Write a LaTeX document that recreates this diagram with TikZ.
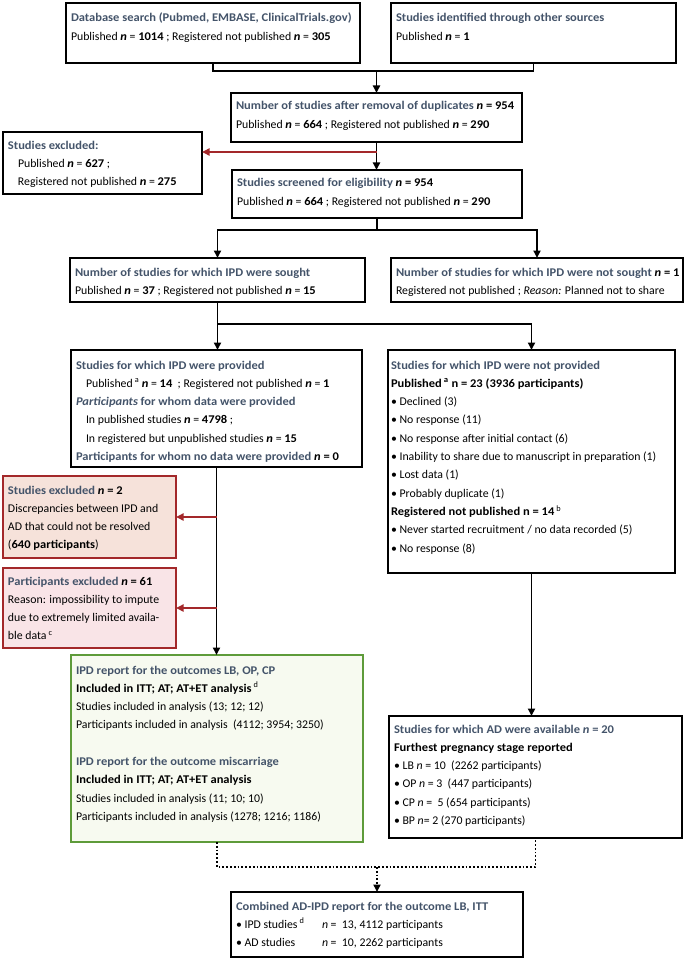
\documentclass[tikz,border=0pt]{standalone}
\usepackage{fontspec}
\setmainfont{Carlito}[BoldFeatures={FakeStretch=1.06},BoldItalicFeatures={FakeStretch=1.06}]
\usetikzlibrary{arrows.meta,calc}
\definecolor{titleblue}{HTML}{44546A}
\definecolor{redline}{HTML}{A3282A}
\definecolor{redfillA}{HTML}{F6E2DA}
\definecolor{redfillB}{HTML}{F9E4E7}
\definecolor{greenline}{HTML}{5E9B3A}
\definecolor{greenfill}{HTML}{F7FAF0}
\newcommand\tb[1]{{\color{titleblue}\bfseries #1}}
\newcommand\bn{\textbf{\textit{n}}}
\newcommand\ind{\hspace*{10pt}}
\newcommand\bx[4]{\makebox[\dimexpr#1pt-10pt\relax][l]{\parbox[c][#2pt][t]{420pt}{\fontsize{11.8}{18.3}\selectfont\raggedright\rule{0pt}{#3pt}#4}}}
\tikzset{
  box/.style={draw, line width=1.8pt, anchor=north west, inner xsep=5pt, inner ysep=0pt, outer sep=0pt, fill=white},
  redbox/.style={box, draw=redline},
  greenbox/.style={box, draw=greenline, fill=greenfill},
  conn/.style={line width=1.8pt, draw=black},
  tip/.style={-{Triangle[length=7.5pt,width=7pt]}},
  redarrow/.style={line width=1.8pt, draw=redline, -{Triangle[length=7.5pt,width=7pt]}},
  dotconn/.style={line width=1.8pt, dotted, draw=black}
}
\begin{document}
\begin{tikzpicture}[x=1pt,y=-1pt]
\useasboundingbox (0,0) rectangle (687,960);
\fill[white] (0,0) rectangle (687,960);

\node[box] (b1) at (66,3) {\bx{294}{60}{19}{\tb{Database search (Pubmed, EMBASE, ClinicalTrials.gov)}\\ Published \bn{} = \textbf{1014} ; Registered not published \bn{} = \textbf{305}}};
\node[box] (b2) at (391,3) {\bx{285}{60}{19}{\tb{Studies identified through other sources}\\ Published \bn{} = \textbf{1}}};

\node[box] (b3) at (231,93) {\bx{291}{49}{17}{\tb{Number of studies after removal of duplicates} \textbf{\textit{n} = 954}\\ Published \bn{} = \textbf{664} ; Registered not published \bn{} = \textbf{290}}};

\node[box] (ex1) at (3,132) {\bx{199}{62}{17}{\tb{Studies excluded:}\\ \ind Published \bn{} = \textbf{627} ;\\ \ind Registered not published \bn{} = \textbf{275}}};

\node[box] (b4) at (232,170) {\bx{290}{48}{17}{\tb{Studies screened for eligibility} \textbf{\textit{n} = 954}\\ Published \bn{} = \textbf{664} ; Registered not published \bn{} = \textbf{290}}};

\node[box] (b5) at (70,258) {\bx{295}{44}{18}{\tb{Number of studies for which IPD were sought}\\ Published \bn{} = \textbf{37} ; Registered not published \bn{} = \textbf{15}}};
\node[box] (b6) at (391,258) {\bx{292}{44}{18}{\tb{Number of studies for which IPD were not sought} \textbf{\textit{n} = 1}\\ Registered not published ; \textit{Reason:} Planned not to share}};

\node[box] (b7) at (71,350) {\bx{291}{117}{19}{\tb{Studies for which IPD were provided}\\ \ind Published\,\textsuperscript{a} \bn{} = \textbf{14}~ ; Registered not published \bn{} = \textbf{1}\\ {\color{titleblue}\bfseries\itshape Participants} \tb{for whom data were provided}\\ \ind In published studies \bn{} = \textbf{4798} ;\\ \ind In registered but unpublished studies \bn{} = \textbf{15}\\ \tb{Participants for whom no data were provided} \textbf{\textit{n} = 0}}};

\node[box, inner xsep=3pt] (b8) at (388,350) {\bx{291}{223}{19}{\tb{Studies for which IPD were not provided}\\ \textbf{Published\,\textsuperscript{a} n = 23 (3936 participants)}\\ • Declined (3)\\ • No response (11)\\ • No response after initial contact (6)\\ • Inability to share due to manuscript in preparation (1)\\ • Lost data (1)\\ • Probably duplicate (1)\\ \textbf{Registered not published n = 14}\,\textsuperscript{b}\\ • Never started recruitment / no data recorded (5)\\ • No response (8)}};

\node[redbox, fill=redfillA] (r1) at (3,476) {\bx{173}{82}{18}{\tb{Studies excluded} \textbf{\textit{n} = 2}\\ Discrepancies between IPD and\\ AD that could not be resolved\\ (\textbf{640 participants})}};
\node[redbox, fill=redfillB] (r2) at (3,568) {\bx{173}{80}{17}{\tb{Participants excluded} \textbf{\textit{n} = 61}\\ Reason: impossibility to impute\\ due to extremely limited availa-\\ ble data\,\textsuperscript{c}}};

\node[greenbox] (g) at (71,655) {\bx{292}{187}{19}{\tb{IPD report for the outcomes LB, OP, CP}\\ \textbf{Included in ITT; AT; AT+ET analysis}\,\textsuperscript{d}\\ Studies included in analysis (13; 12; 12)\\ Participants included in analysis~ (4112; 3954; 3250)\\[18.3pt] \tb{IPD report for the outcome miscarriage}\\ \textbf{Included in ITT; AT; AT+ET analysis}\\ Studies included in analysis (11; 10; 10)\\ Participants included in analysis (1278; 1216; 1186)}};

\node[box] (ad) at (389,716) {\bx{293}{122}{17}{\tb{Studies for which AD were available \textit{n} = 20}\\ \textbf{Furthest pregnancy stage reported}\\ • LB \textit{n} = 10~ (2262 participants)\\ • OP \textit{n} = 3~ (447 participants)\\ • CP \textit{n} = ~5 (654 participants)\\ • BP \textit{n}= 2 (270 participants)}};

\node[box] (fin) at (231,892) {\bx{292}{65}{18}{\tb{Combined AD-IPD report for the outcome LB, ITT}\\ \makebox[86pt][l]{• IPD studies\,\textsuperscript{d}}\textit{n} = ~13, 4112 participants\\ \makebox[86pt][l]{• AD studies}\textit{n} = ~10, 2262 participants}};

% connectors
\coordinate (j1) at ($(b3.north)+(0,-22)$);
\draw[conn] (b1.south) |- (j1) -| (b2.south);
\draw[conn,tip] (j1) -- (b3.north);
\draw[conn,tip] (b3.south) -- (b3.south |- b4.north);
\coordinate (j2) at ($(b3.south)+(0,10)$);
\draw[redarrow] (j2) -- (j2 -| ex1.east);
\coordinate (j3) at ($(b4.south)+(0,12)$);
\draw[conn] (b4.south) -- (j3);
\draw[conn,tip] (j3) -| (b5.north);
\draw[conn,tip] (j3) -| (b6.north);
\coordinate (j4) at ($(b5.south)+(0,22)$);
\draw[conn] (b5.south) -- (j4);
\draw[conn,tip] (j4) -- (j4 |- b7.north);
\draw[conn,tip] (j4) -| (b8.north);
\draw[conn,tip] (b7.south) -- (b7.south |- g.north);
\draw[redarrow] (b7.south |- r1.east) -- (r1.east);
\draw[redarrow] (b7.south |- r2.east) -- (r2.east);
\draw[conn,tip] (b8.south) -- (b8.south |- ad.north);
\coordinate (j5) at ($(g.south)+(0,25)$);
\draw[dotconn] (g.south) -- (j5) -| (ad.south);
\draw[dotconn,tip] (fin.north |- j5) -- (fin.north);
\end{tikzpicture}
\end{document}
